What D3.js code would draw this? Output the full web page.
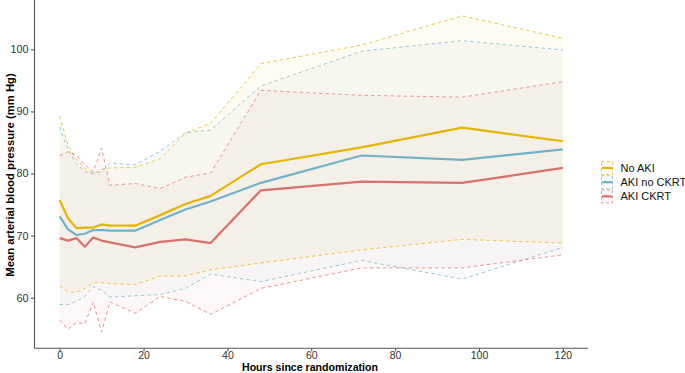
<!DOCTYPE html>
<html>
<head>
<meta charset="utf-8">
<script src="https://cdn.jsdelivr.net/npm/d3@7"></script>
<style>
  html, body { margin: 0; padding: 0; background: #fff; }
  svg { display: block; font-family: "Liberation Sans", Arial, sans-serif; }
</style>
</head>
<body>
<svg id="chart" width="685" height="373"></svg>
<script>
// ---- data ----
const hours = [0, 2, 4, 6, 8, 10, 12, 18, 24, 30, 36, 48, 72, 96, 120];

const groups = ["No AKI", "AKI no CKRT", "AKI CKRT"];

const noAkiMean  = [75.7, 72.8, 71.2, 71.3, 71.3, 71.8, 71.6, 71.6, 73.3, 75.1, 76.4, 81.5, 84.2, 87.4, 85.2];
const noAkiUpper = [89.3, 84.5, 82.3, 80.8, 80.0, 80.7, 80.9, 81.0, 82.4, 86.5, 88.1, 97.7, 100.7, 105.4, 101.8];
const noAkiLower = [61.9, 60.9, 60.9, 61.5, 62.4, 62.4, 62.3, 62.1, 63.5, 63.5, 64.5, 65.6, 67.7, 69.4, 68.8];

const akiNoCkrtMean  = [73.1, 71.0, 70.1, 70.3, 70.9, 70.9, 70.8, 70.8, 72.5, 74.2, 75.5, 78.5, 82.9, 82.2, 83.9];
const akiNoCkrtUpper = [87.5, 83.8, 81.6, 80.3, 80.0, 80.3, 81.7, 81.4, 83.6, 86.6, 87.0, 94.1, 99.7, 101.4, 99.9];
const akiNoCkrtLower = [58.9, 58.9, 59.4, 60.2, 61.8, 61.2, 60.1, 60.3, 60.5, 61.5, 63.8, 62.6, 66.0, 63.0, 68.1];

const akiCkrtMean  = [69.6, 69.2, 69.6, 68.2, 69.7, 69.2, 68.9, 68.1, 69.0, 69.4, 68.8, 77.3, 78.7, 78.5, 80.9];
const akiCkrtUpper = [82.9, 83.5, 83.0, 81.4, 80.3, 84.1, 78.1, 78.4, 77.6, 79.4, 80.1, 93.4, 92.6, 92.3, 94.8];
const akiCkrtLower = [56.4, 54.9, 56.0, 55.8, 59.3, 54.5, 59.3, 57.5, 60.2, 59.4, 57.3, 61.5, 64.8, 64.8, 66.9];

const xTicks = [0, 20, 40, 60, 80, 100, 120];
const yTicks = [60, 70, 80, 90, 100];

const colors = ["#E6B400", "#6FB2C8", "#D9706B"];

// ---- build series ----
const series = [
  { name: groups[0], mean: noAkiMean, upper: noAkiUpper, lower: noAkiLower, color: colors[0] },
  { name: groups[1], mean: akiNoCkrtMean, upper: akiNoCkrtUpper, lower: akiNoCkrtLower, color: colors[1] },
  { name: groups[2], mean: akiCkrtMean, upper: akiCkrtUpper, lower: akiCkrtLower, color: colors[2] }
];

const svg = d3.select("#chart");

const x = d3.scaleLinear().domain([-6, 126]).range([34.5, 588]);
const y = d3.scaleLinear().domain([51.85, 107.95]).range([348.3, 0]);

// ribbons
const area = d3.area()
  .x((d, i) => x(hours[i]))
  .y0(d => y(d.lo))
  .y1(d => y(d.hi));

const lineGen = d3.line()
  .x((d, i) => x(hours[i]))
  .y(d => y(d));

const gR = svg.append("g");
series.forEach(s => {
  const pts = hours.map((h, i) => ({ lo: s.lower[i], hi: s.upper[i] }));
  gR.append("path")
    .attr("d", area(pts))
    .attr("fill", s.color)
    .attr("fill-opacity", 0.05)
    .attr("stroke", "none");
});

const gD = svg.append("g");
series.forEach(s => {
  [s.upper, s.lower].forEach(arr => {
    gD.append("path")
      .attr("d", lineGen(arr))
      .attr("fill", "none")
      .attr("stroke", s.color)
      .attr("stroke-opacity", 0.7)
      .attr("stroke-width", 1)
      .attr("stroke-dasharray", "3.5,3");
  });
});

const gM = svg.append("g");
series.forEach(s => {
  gM.append("path")
    .attr("d", lineGen(s.mean))
    .attr("fill", "none")
    .attr("stroke", s.color)
    .attr("stroke-width", 2.2)
    .attr("stroke-linejoin", "round");
});

// axes
const axisColor = "#555";
const xAxis = svg.append("g")
  .attr("transform", "translate(0,348.3)")
  .call(d3.axisBottom(x).tickValues(xTicks).tickSize(3).tickPadding(0).tickSizeOuter(0));
const yAxis = svg.append("g")
  .attr("transform", "translate(34.5,0)")
  .call(d3.axisLeft(y).tickValues(yTicks).tickSize(3.5).tickPadding(2.5).tickSizeOuter(0));

[xAxis, yAxis].forEach(g => {
  g.select(".domain").attr("stroke", axisColor).attr("stroke-width", 1.1);
  g.selectAll(".tick line").attr("stroke", axisColor).attr("stroke-width", 1.1);
  g.selectAll(".tick text")
    .attr("fill", "#333")
    .style("font-size", "10.8px")
    .style("font-family", "'Liberation Sans', Arial, sans-serif");
});
xAxis.selectAll(".tick text").style("font-size", "10.5px");
// extend domain lines over full panel
xAxis.select(".domain").attr("d", `M${x.range()[0]},0H${x.range()[1]}`);
yAxis.select(".domain").attr("d", `M0,${y.range()[0]}V${y.range()[1]}`);

// titles
svg.append("text")
  .attr("x", 310)
  .attr("y", 370.7)
  .attr("text-anchor", "middle")
  .style("font-size", "10.6px")
  .style("font-weight", "bold")
  .attr("fill", "#000")
  .text("Hours since randomization");

svg.append("text")
  .attr("transform", "translate(14,175) rotate(-90)")
  .attr("text-anchor", "middle")
  .style("font-size", "11.3px")
  .style("font-weight", "bold")
  .attr("fill", "#000")
  .text("Mean arterial blood pressure (mm Hg)");

// legend
const leg = svg.append("g").attr("transform", "translate(601,161)");
series.forEach((s, i) => {
  const g = leg.append("g").attr("transform", `translate(0,${i * 14.2})`);
  g.append("rect")
    .attr("x", 0.5).attr("y", 0.5)
    .attr("width", 11).attr("height", 13)
    .attr("fill", s.color).attr("fill-opacity", 0.05)
    .attr("stroke", s.color).attr("stroke-opacity", 0.7)
    .attr("stroke-width", 1).attr("stroke-dasharray", "3,2.5");
  g.append("line")
    .attr("x1", 1).attr("x2", 11)
    .attr("y1", 7).attr("y2", 7)
    .attr("stroke", s.color).attr("stroke-width", 2.2);
  g.append("text")
    .attr("x", 19.5).attr("y", 11)
    .style("font-size", "11px")
    .attr("fill", "#111")
    .text(s.name);
});
</script>
</body>
</html>
